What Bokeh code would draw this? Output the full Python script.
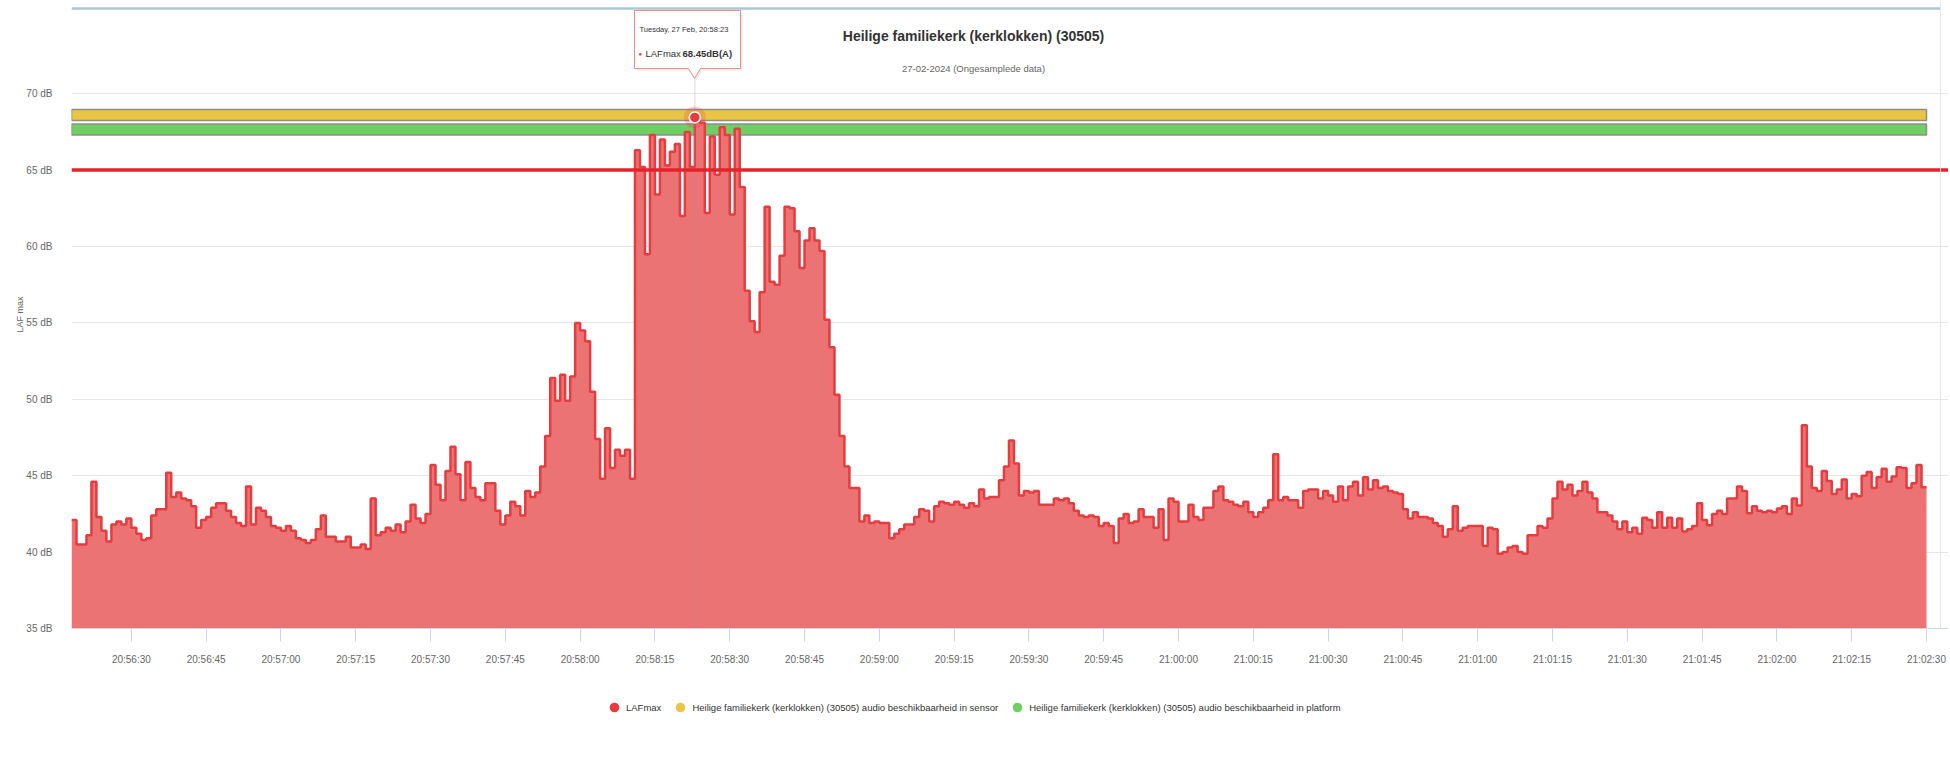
import pandas as pd
from bokeh.plotting import figure
from bokeh.layouts import column
from bokeh.models import (Range1d, FixedTicker, PrintfTickFormatter, DatetimeTickFormatter,
                          Legend, LegendItem, ColumnDataSource, Span)
from bokeh.core.properties import value
from bokeh.embed import file_html
from bokeh.resources import INLINE

# ---------------- data ----------------
START = "2024-02-27 20:56:18"          # first 1-second sample
LAFMAX = [
    42.1, 40.5, 40.5, 41.1, 44.6, 42.3, 41.4, 40.7, 41.8, 42.0,
    41.8, 42.2, 41.6, 41.2, 40.8, 40.9, 42.4, 42.8, 42.8, 45.2,
    43.6, 43.9, 43.5, 43.4, 43.0, 41.6, 42.1, 42.3, 42.9, 43.2,
    43.2, 42.7, 42.3, 41.9, 41.7, 44.3, 41.8, 42.9, 42.7, 42.3,
    41.7, 41.6, 41.4, 41.7, 41.4, 40.9, 40.8, 40.6, 40.8, 41.5,
    42.4, 41.0, 41.0, 40.7, 40.7, 41.0, 40.3, 40.3, 40.5, 40.2,
    43.5, 41.1, 41.3, 41.6, 41.4, 41.8, 41.3, 42.0, 43.1, 42.2,
    41.9, 42.5, 45.7, 44.4, 43.4, 45.3, 46.9, 45.1, 43.4, 45.9,
    44.2, 43.6, 43.4, 44.5, 44.5, 42.7, 41.8, 42.4, 43.3, 43.0,
    42.4, 44.0, 43.6, 43.9, 45.6, 47.6, 51.4, 49.9, 51.6, 49.9,
    51.5, 55.0, 54.5, 53.8, 50.5, 47.4, 44.8, 48.1, 45.5, 46.7,
    46.3, 46.7, 44.8, 66.3, 65.2, 59.5, 67.3, 63.4, 67.0, 65.3,
    66.2, 66.7, 62.0, 67.5, 65.2, 68.45, 68.1, 62.2, 67.2, 64.7,
    67.8, 67.3, 62.1, 67.7, 63.9, 57.1, 55.1, 54.4, 57.0, 62.6,
    57.7, 57.5, 59.4, 62.6, 62.5, 61.0, 58.6, 60.4, 61.2, 60.4,
    59.7, 55.2, 53.4, 50.3, 47.6, 45.6, 44.2, 44.2, 42.0, 42.4,
    41.9, 42.0, 41.9, 41.9, 40.9, 41.2, 41.5, 41.8, 41.8, 42.3,
    42.8, 42.7, 42.0, 43.0, 43.3, 43.2, 43.1, 43.3, 43.1, 42.9,
    43.2, 43.0, 44.1, 43.5, 43.6, 43.6, 44.7, 45.6, 47.3, 45.8,
    43.7, 44.0, 43.9, 44.0, 43.1, 43.1, 43.1, 43.5, 43.4, 43.5,
    43.2, 42.7, 42.4, 42.3, 42.4, 42.3, 41.7, 41.9, 41.7, 40.6,
    42.2, 42.5, 41.9, 42.0, 42.8, 42.3, 42.3, 41.6, 42.8, 40.8,
    43.5, 43.3, 42.0, 42.0, 43.1, 42.3, 42.1, 42.9, 42.9, 44.0,
    44.3, 43.4, 43.3, 43.1, 43.0, 43.3, 42.6, 42.3, 42.6, 42.9,
    43.4, 46.4, 43.4, 43.6, 43.4, 43.4, 42.9, 44.0, 44.1, 44.1,
    43.5, 44.0, 43.7, 43.3, 44.3, 43.4, 44.3, 44.6, 43.7, 44.9,
    44.1, 44.7, 44.2, 44.3, 44.0, 43.9, 43.8, 42.8, 42.2, 42.6,
    42.3, 42.3, 42.2, 41.9, 41.7, 41.0, 41.5, 43.0, 41.4, 41.6,
    41.7, 41.7, 41.7, 40.4, 41.6, 41.5, 39.9, 40.0, 40.3, 40.4,
    40.0, 39.9, 41.1, 41.1, 41.7, 41.6, 42.2, 43.5, 44.6, 44.1,
    44.4, 43.7, 44.0, 44.6, 43.9, 43.5, 42.6, 42.6, 42.4, 42.0,
    41.5, 42.0, 41.3, 41.6, 41.2, 42.25, 42.1, 41.6, 42.6, 41.6,
    42.25, 41.6, 42.2, 41.35, 41.5, 41.7, 43.2, 42.1, 41.75, 42.5,
    42.7, 42.5, 43.5, 43.5, 44.3, 44.0, 42.55, 43.0, 42.7, 42.6,
    42.7, 42.6, 42.85, 43.0, 42.5, 43.5, 43.05, 48.3, 45.6, 44.2,
    44.0, 45.3, 44.65, 43.8, 44.1, 44.75, 43.5, 43.8, 43.65, 45.0,
    45.25, 44.2, 44.9, 45.45, 44.6, 44.95, 45.55, 45.5, 44.2, 44.5,
    45.7, 44.25,
]
TOOLTIP_INDEX = 125                      # highlighted sample (20:58:23)
THRESHOLD_DB = 65
SENSOR_BAND = (68.25, 68.97)             # availability in sensor
PLATFORM_BAND = (67.3, 68.02)            # availability in platform
Y_TICKS = [35, 40, 45, 50, 55, 60, 65, 70]
X_TICK_FIRST = "2024-02-27 20:56:30"
X_TICK_LAST = "2024-02-27 21:02:30"
TITLE = "Heilige familiekerk (kerklokken) (30505)"
SUBTITLE = "27-02-2024 (Ongesamplede data)"
Y_TITLE = "LAF max"
NAMES = ["LAFmax",
         "Heilige familiekerk (kerklokken) (30505) audio beschikbaarheid in sensor",
         "Heilige familiekerk (kerklokken) (30505) audio beschikbaarheid in platform"]
TIP_HEADER = "Tuesday, 27 Feb, 20:58:23"

# ---------------- styling ----------------
FONT = "Liberation Sans"
C_RED_LINE = "#e63c3f"
C_RED_FILL = "#ec7373"
C_YELLOW = "#eac545"
C_GREEN = "#6fcf63"
C_THRESH = "#e8202a"

# ---------------- layout (page pixel geometry) ----------------
FIG_W, FIG_H = 1948, 779
H1 = 672                                  # main chart height, legend strip below
FR_L, FR_R, FR_T, FR_B = 71, 1948, 0, 628
DATA_R = 1926
PX_PER_DB = (628 - 93.2) / 35.0


def ms(ts):
    return pd.Timestamp(ts).value / 1e6


n = len(LAFMAX)
t0 = ms(START)
times = [t0 + i * 1000.0 for i in range(n)]
t_end = t0 + n * 1000.0
px_per_ms = (DATA_R - FR_L) / (t_end - t0)


def X(px):
    return t0 + (px - FR_L) / px_per_ms


def Y(py):
    return 35 + (FR_B - py) / PX_PER_DB


x_range = Range1d(t0, X(FR_R))
y_range = Range1d(35, Y(FR_T))

p = figure(width=FIG_W, height=H1, x_axis_type="datetime",
           x_range=x_range, y_range=y_range, output_backend="svg",
           toolbar_location=None, title=None,
           min_border_left=FR_L, min_border_right=FIG_W - FR_R,
           min_border_top=FR_T, min_border_bottom=H1 - FR_B)
p.outline_line_color = None
p.background_fill_color = "white"
p.border_fill_color = "white"

# grid
p.xgrid.grid_line_color = None
p.ygrid.ticker = FixedTicker(ticks=Y_TICKS)
p.ygrid.grid_line_color = "#e6e6e6"

# y axis
p.yaxis.ticker = FixedTicker(ticks=Y_TICKS)
p.yaxis.formatter = PrintfTickFormatter(format="%d dB")
p.yaxis.axis_line_color = None
p.yaxis.major_tick_line_color = None
p.yaxis.minor_tick_line_color = None
p.yaxis.major_label_standoff = 13
p.yaxis.major_label_text_font = FONT
p.yaxis.major_label_text_font_size = "10px"
p.yaxis.major_label_text_color = "#666666"
p.yaxis.axis_label = Y_TITLE
p.yaxis.axis_label_text_font = FONT
p.yaxis.axis_label_text_font_size = "9px"
p.yaxis.axis_label_text_font_style = "normal"
p.yaxis.axis_label_text_color = "#666666"
p.yaxis.axis_label_standoff = -2

# x axis
xticks = [ms(t) for t in pd.date_range(X_TICK_FIRST, X_TICK_LAST, freq="15s")]
p.xaxis.ticker = FixedTicker(ticks=xticks)
fmt = "%H:%M:%S"
p.xaxis.formatter = DatetimeTickFormatter(seconds=fmt, minsec=fmt, minutes=fmt,
                                          hourmin=fmt, hours=fmt, milliseconds=fmt)
p.xaxis.axis_line_color = "#ccd6eb"
p.xaxis.major_tick_line_color = "#ccd6eb"
p.xaxis.major_tick_out = 13
p.xaxis.major_tick_in = 0
p.xaxis.minor_tick_line_color = None
p.xaxis.major_label_standoff = 12
p.xaxis.major_label_text_font = FONT
p.xaxis.major_label_text_font_size = "10px"
p.xaxis.major_label_text_color = "#666666"

# availability bands
band_src = ColumnDataSource(dict(
    left=[t0, t0], right=[t_end, t_end],
    bottom=[SENSOR_BAND[0], PLATFORM_BAND[0]], top=[SENSOR_BAND[1], PLATFORM_BAND[1]],
    color=[C_YELLOW, C_GREEN]))
p.quad(left="left", right="right", bottom="bottom", top="top", source=band_src,
       fill_color="color", line_color="#8e8e8e", line_width=1.5)

# LAFmax area (step)
xs = times + [t_end]
ys = LAFMAX + [LAFMAX[-1]]
src = ColumnDataSource(dict(t=xs, v=ys, base=[35] * len(xs)))
p.varea_step(x="t", y1="base", y2="v", source=src, step_mode="after",
             fill_color=C_RED_FILL, fill_alpha=1.0)
p.step(x="t", y="v", source=src, mode="after", line_color=C_RED_LINE, line_width=2.5)

# threshold line
p.add_layout(Span(location=THRESHOLD_DB, dimension="width", line_color=C_THRESH,
                  line_width=3.5))

# crosshair + marker
tx = times[TOOLTIP_INDEX]
tv = LAFMAX[TOOLTIP_INDEX]
p.segment(x0=[tx], y0=[35], x1=[tx], y1=[Y(78)], line_color="#999999", line_alpha=0.35,
          line_width=1)
p.scatter(x=[tx], y=[tv], size=22, fill_color=C_RED_LINE, fill_alpha=0.22, line_color=None)
p.scatter(x=[tx], y=[tv], size=11, fill_color=C_RED_LINE, line_color="white", line_width=1.5)

# container borders
p.segment(x0=[X(FR_L)], y0=[Y(8)], x1=[X(1940)], y1=[Y(8)],
          line_color="#a9c7d7", line_width=2.5)
p.add_layout(Span(location=X(1940), dimension="height", line_color="#e6e6e6", line_width=1))

# title / subtitle
p.text(x=[X(973)], y=[Y(35)], text=[TITLE], text_font=value(FONT), text_font_size="14px",
       text_font_style="bold", text_color="#333333", text_align="center",
       text_baseline="middle")
p.text(x=[X(973)], y=[Y(68)], text=[SUBTITLE], text_font=value(FONT),
       text_font_size="9.5px", text_color="#666666", text_align="center",
       text_baseline="middle")

# tooltip callout
bx = [634, 740, 740, 700, 694, 688, 634]
by = [10, 10, 68, 68, 78, 68, 68]
p.patch(x=[X(v + 2) for v in bx], y=[Y(v + 2) for v in by], fill_color="#000000",
        fill_alpha=0.08, line_color=None)
p.patch(x=[X(v) for v in bx], y=[Y(v) for v in by], fill_color="white",
        line_color="#f08b8b", line_width=1)
p.text(x=[X(639)], y=[Y(29)], text=[TIP_HEADER], text_font=value(FONT),
       text_font_size="7.5px", text_color="#333333", text_baseline="middle")
p.text(x=[X(638)], y=[Y(53)], text=["\u25cf"], text_font=value(FONT),
       text_font_size="6px", text_color=C_RED_LINE, text_baseline="middle")
p.text(x=[X(645)], y=[Y(53)], text=[NAMES[0]], text_font=value(FONT),
       text_font_size="9.5px", text_color="#333333", text_baseline="middle")
p.text(x=[X(682)], y=[Y(53)], text=[f"{tv:.2f}dB(A)"], text_font=value(FONT),
       text_font_size="9.5px", text_font_style="bold", text_color="#333333",
       text_baseline="middle")

# ---------------- legend strip (second figure, below the chart) ----------------
H2 = FIG_H - H1
q = figure(width=FIG_W, height=H2, x_range=Range1d(0, 1), y_range=Range1d(0, 1),
           x_axis_location=None, y_axis_location=None, output_backend="svg",
           toolbar_location=None, title=None, min_border=0,
           min_border_left=FR_L, min_border_right=FIG_W - FR_R)
q.outline_line_color = None
q.grid.visible = False
q.background_fill_color = "white"
q.border_fill_color = "white"
# legend swatches: renderers with a point outside the visible strip
leg_r = [q.scatter(x=[-5], y=[-5], size=10, fill_color=c, line_color=None)
         for c in (C_RED_LINE, C_YELLOW, C_GREEN)]
LEG_H = 24
LEG_CENTER_Y = 707 - H1                  # page y of the legend row, in strip pixels
legend = Legend(items=[LegendItem(label=nm, renderers=[r]) for nm, r in zip(NAMES, leg_r)],
                orientation="horizontal",
                location=(602 - FR_L, H2 - LEG_CENTER_Y - LEG_H / 2),
                background_fill_alpha=0, border_line_color=None, padding=0, margin=0,
                spacing=7, label_standoff=0, glyph_width=LEG_H, glyph_height=LEG_H,
                label_text_font=FONT, label_text_font_size="9.5px",
                label_text_color="#333333")
q.add_layout(legend)

layout = column(p, q, spacing=0)
open("out.html", "w").write(file_html(layout, INLINE))
